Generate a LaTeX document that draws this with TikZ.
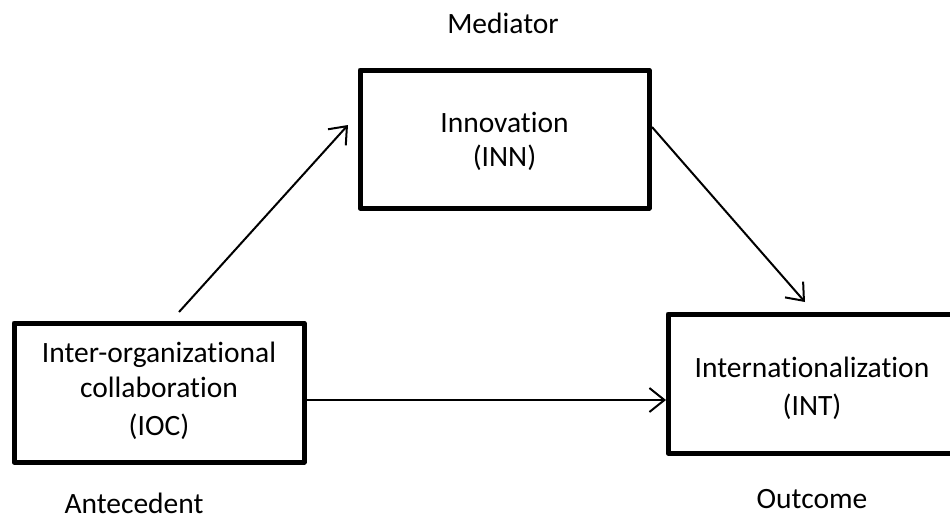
\documentclass[tikz,border=0pt]{standalone}
\usepackage{fontspec}
\setmainfont[Ligatures={NoCommon}]{Carlito}
\usetikzlibrary{arrows.meta}
\begin{document}
\begin{tikzpicture}[x=1pt,y=-1pt,
  box/.style={draw=black,line width=5pt,rectangle,inner sep=0pt,outer sep=0pt,line join=round},
  txt/.style={anchor=base,inner sep=0pt,font=\fontsize{29.5}{35}\selectfont},
  arr/.style={line width=2pt,-{Straight Barb[length=15pt,width=24pt,line width=2pt]}}]
\useasboundingbox (0,0) rectangle (950,523);
\clip (0,0) rectangle (950,523);
% boxes
\node[box,minimum width=289pt,minimum height=138pt] (inn) at (504.5,139) {};
\node[box,minimum width=290pt,minimum height=139pt] (ioc) at (159,392.5) {};
\node[box,minimum width=292pt,minimum height=139pt] (int) at (814,383.5) {};
% box texts
\node[txt] (inn1) at (504.5,132) {Innovation};
\node[txt] (inn2) at (504.5,166) {(INN)};
\node[txt] (ioc1) at (159,362) {Inter-organizational};
\node[txt] (ioc2) at (159,397) {collaboration};
\node[txt] (ioc3) at (159,435) {(IOC)};
\node[txt] (int1) at (812,377) {Internationalization};
\node[txt] (int2) at (812,415) {(INT)};
% role labels
\node[txt] (med) at (503,33) {Mediator};
\node[txt] (ant) at (134,513) {Antecedent};
\node[txt] (out) at (812,508) {Outcome};
% connector ends
\coordinate (a1s) at (179,312);
\coordinate (a1e) at (348,125);
\coordinate (a2s) at (652,127);
\coordinate (a2e) at (805,302);
\coordinate (a3s) at (306,400);
\coordinate (a3e) at (666,400);
\draw[arr] (a1s) -- (a1e);
\draw[arr] (a2s) -- (a2e);
\draw[arr] (a3s) -- (a3e);
\end{tikzpicture}
\end{document}
